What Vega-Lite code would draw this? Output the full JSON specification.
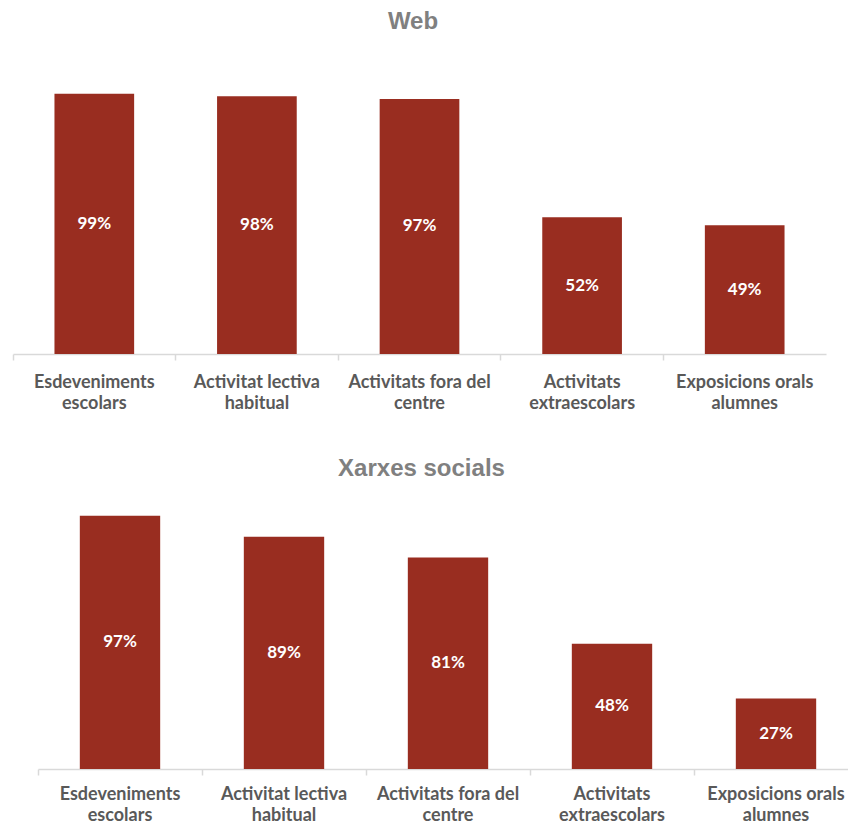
{
  "$schema": "https://vega.github.io/schema/vega-lite/v6.json",
  "background": "white",
  "padding": {"left": 0, "top": 10, "right": 0, "bottom": 0},
  "spacing": 44,
  "datasets": {
    "web": [
      {"cat": "Esdeveniments|escolars", "pct": 0.99},
      {"cat": "Activitat lectiva|habitual", "pct": 0.98},
      {"cat": "Activitats fora del|centre", "pct": 0.97},
      {"cat": "Activitats|extraescolars", "pct": 0.52},
      {"cat": "Exposicions orals|alumnes", "pct": 0.49}
    ],
    "xarxes": [
      {"cat": "Esdeveniments|escolars", "pct": 0.97},
      {"cat": "Activitat lectiva|habitual", "pct": 0.89},
      {"cat": "Activitats fora del|centre", "pct": 0.81},
      {"cat": "Activitats|extraescolars", "pct": 0.48},
      {"cat": "Exposicions orals|alumnes", "pct": 0.27}
    ]
  },
  "config": {
    "view": {"stroke": null},
    "title": {"font": "Liberation Sans", "fontSize": 24, "fontWeight": "bold", "color": "#808080", "anchor": "middle"},
    "axisX": {
      "title": null,
      "labelAngle": 0,
      "domainColor": "#d9d9d9",
      "domainWidth": 1.5,
      "tickColor": "#d9d9d9",
      "tickSize": 6,
      "tickWidth": 1.5,
      "bandPosition": -0.52,
      "labelFont": "Lato",
      "labelFontSize": 18,
      "labelFontWeight": "bold",
      "labelColor": "#595959",
      "labelPadding": 13,
      "labelLineHeight": 21.5,
      "labelExpr": "split(datum.label, '|')"
    },
    "axisY": {"title": null, "labels": false, "ticks": false, "domain": false, "grid": false, "minExtent": 13, "maxExtent": 13}
  },
  "vconcat": [
    {
      "title": {"text": "Web", "dx": -6.5, "offset": 57},
      "data": {"name": "web"},
      "width": 813,
      "height": 263,
      "encoding": {
        "x": {"field": "cat", "type": "nominal", "sort": null,
              "scale": {"paddingInner": 0.51, "paddingOuter": 0.255}}
      },
      "layer": [
        {"mark": {"type": "bar", "color": "#992d20"},
         "encoding": {"y": {"field": "pct", "type": "quantitative", "scale": {"domain": [0, 1]}}}},
        {"mark": {"type": "text", "color": "white", "font": "Lato", "fontSize": 17, "fontWeight": "bold", "baseline": "middle"},
         "encoding": {"y": {"field": "pct", "type": "quantitative", "scale": {"domain": [0, 2]}, "axis": null},
                      "text": {"field": "pct", "type": "quantitative", "format": ".0%"}}}
      ],
      "resolve": {"scale": {"y": "independent"}}
    },
    {
      "title": {"text": "Xarxes socials", "dx": -14.5, "offset": 27},
      "data": {"name": "xarxes"},
      "width": 846,
      "height": 261,
      "encoding": {
        "x": {"field": "cat", "type": "nominal", "sort": null,
              "scale": {"range": [25, 845], "paddingInner": 0.51, "paddingOuter": 0.255},
              "axis": {"labelPadding": 10}}
      },
      "layer": [
        {"mark": {"type": "bar", "color": "#992d20"},
         "encoding": {"y": {"field": "pct", "type": "quantitative", "scale": {"domain": [0, 1]}}}},
        {"mark": {"type": "text", "color": "white", "font": "Lato", "fontSize": 17, "fontWeight": "bold", "baseline": "middle"},
         "encoding": {"y": {"field": "pct", "type": "quantitative", "scale": {"domain": [0, 2]}, "axis": null},
                      "text": {"field": "pct", "type": "quantitative", "format": ".0%"}}}
      ],
      "resolve": {"scale": {"y": "independent"}}
    }
  ]
}
